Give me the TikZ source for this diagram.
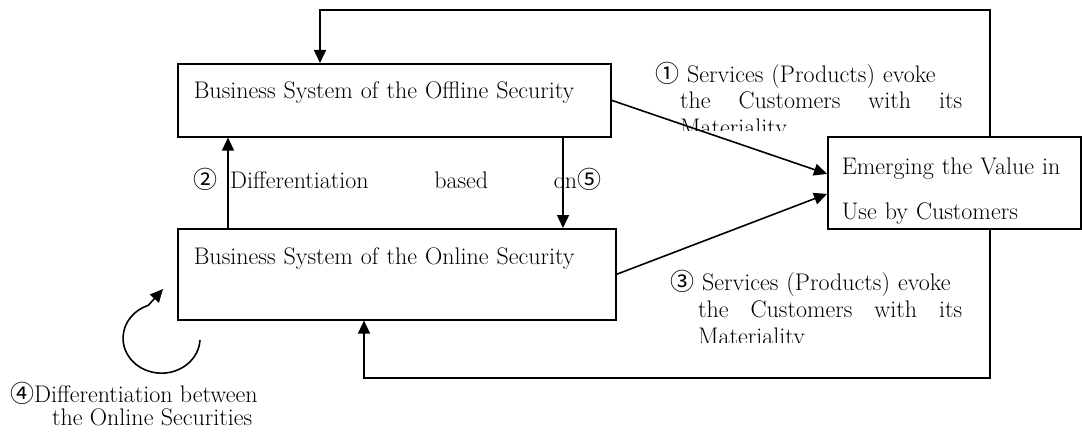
\documentclass[tikz,border=0pt]{standalone}
\usepackage{fontspec}
\newfontfamily\cjk{Noto Sans CJK JP}
\usetikzlibrary{arrows.meta}
\setlength{\parindent}{0pt}
\newcommand\cn[1]{{\cjk #1}}

\begin{document}
\begin{tikzpicture}[
  x=1pt, y=-1pt,
  every node/.style={font=\fontsize{24}{27}\selectfont, inner sep=0pt},
  sysbox/.style={draw, line width=1.6pt, anchor=north west, inner xsep=16pt, align=left},
  arr/.style={line width=1.6pt, -{Triangle[length=13pt,width=12pt]}},
  lbl/.style={anchor=base west},
]
  \useasboundingbox (0,0) rectangle (1082,436);

  % the three boxes
  \node[sysbox, text width=401pt, text height=35pt, text depth=38pt] (off) at (177,63)
    {Business System of the Offline Security};
  \node[sysbox, text width=406pt, text height=36pt, text depth=55pt] (onl) at (177,228)
    {Business System of the Online Security};
  \node[sysbox, inner xsep=14pt, text width=225pt, text height=38pt, text depth=54pt] (emg) at (827,136)
    {Emerging the Value in\\[18pt]Use by Customers};

  % arrows into the value
  \draw[arr] (off.east) -- (emg.176);
  \draw[arr] (onl.east) -- (emg.185);

  % between the two systems
  \coordinate (a2) at (228,0);
  \coordinate (a5) at (563,0);
  \draw[arr] (a2 |- onl.north) -- (a2 |- off.south);
  \draw[arr] (a5 |- off.south) -- (a5 |- onl.north);

  % feedback lines
  \coordinate (tr) at (990,10);
  \coordinate (tl) at (320,10);
  \draw[arr] (tr |- emg.north) -- (tr) -- (tl) -- (tl |- off.north);
  \coordinate (br) at (990,378);
  \coordinate (bl) at (364,378);
  \draw[arr] (br |- emg.south) -- (br) -- (bl) -- (bl |- onl.south);

  % loop of the online securities
  \coordinate (lp) at (200,340);
  \coordinate (lq) at (163,289);
  \draw[arr] (lp) arc[start angle=-3, end angle=-250, x radius=38.5pt, y radius=35pt] -- (lq);

  % labels
  \begin{scope}
    \clip (640,50) rectangle (980,130);
    \node[lbl, text width=282pt] (l1) at (680,82)
      {\hspace*{-25pt}\cn{①}\hspace{8pt}Services (Products) evoke\\
       \makebox[282pt]{the\hfill Customers\hfill with\hfill its}\\
       Materiality};
  \end{scope}
  \begin{scope}
    \clip (650,260) rectangle (980,342);
    \node[lbl, text width=264pt] (l3) at (698,290)
      {\hspace*{-28pt}\cn{③}\hspace{8pt}Services (Products) evoke\\
       \makebox[264pt]{the\hfill Customers\hfill with\hfill its}\\
       Materiality};
  \end{scope}
  \node[lbl] (l2) at (193,188)
    {\cn{②}\hspace{13pt}\makebox[371pt]{Differentiation\hfill based\hfill on\cn{⑤}}};
  \node[lbl, align=left, font=\fontsize{24}{23}\selectfont] (l4) at (10,425)
    {\cn{④}Differentiation between\\\hspace*{42pt}the Online Securities};
\end{tikzpicture}
\end{document}
